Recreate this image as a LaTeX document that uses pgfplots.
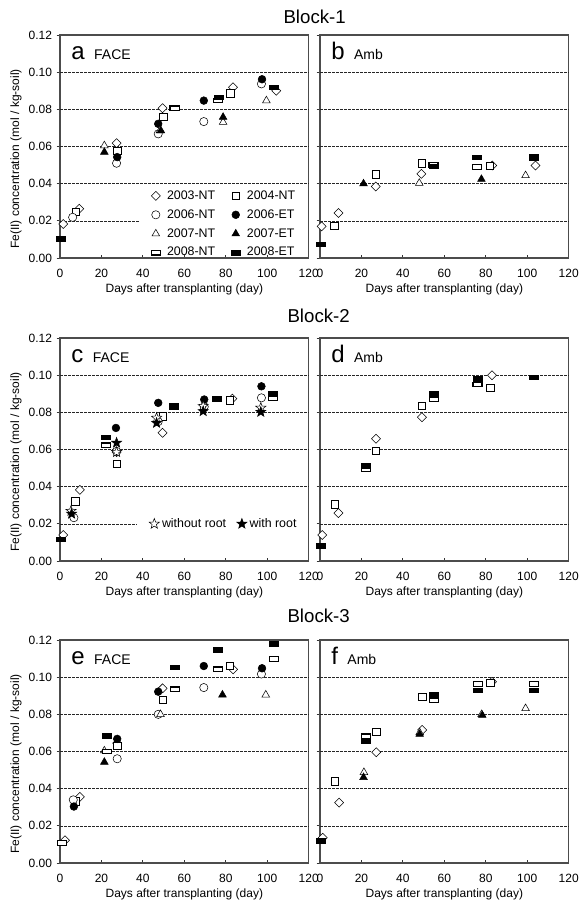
\documentclass[border=0pt]{standalone}
\usepackage{fontspec}
\setmainfont{Liberation Sans}
\usepackage{pgfplots}
\pgfplotsset{compat=1.18}
\usetikzlibrary{plotmarks}

% five-pointed star mark (open or filled through fill=)
\pgfdeclareplotmark{fivestar}{%
  \pgfpathmoveto{\pgfpointpolar{90}{\pgfplotmarksize}}%
  \pgfpathlineto{\pgfpointpolar{126}{0.42*\pgfplotmarksize}}%
  \pgfpathlineto{\pgfpointpolar{162}{\pgfplotmarksize}}%
  \pgfpathlineto{\pgfpointpolar{198}{0.42*\pgfplotmarksize}}%
  \pgfpathlineto{\pgfpointpolar{234}{\pgfplotmarksize}}%
  \pgfpathlineto{\pgfpointpolar{270}{0.42*\pgfplotmarksize}}%
  \pgfpathlineto{\pgfpointpolar{306}{\pgfplotmarksize}}%
  \pgfpathlineto{\pgfpointpolar{342}{0.42*\pgfplotmarksize}}%
  \pgfpathlineto{\pgfpointpolar{18}{\pgfplotmarksize}}%
  \pgfpathlineto{\pgfpointpolar{54}{0.42*\pgfplotmarksize}}%
  \pgfpathclose
  \pgfusepathqfillstroke}

\tikzset{gl/.style={black!85, line width=0.5pt, dash pattern=on 2pt off 1pt}}
% horizontal guide lines; #1 = where the 0.02 line stops
\newcommand{\grids}[1]{%
  \pgfplotsinvokeforeach{0.04,0.06,0.08,0.1}{\draw[gl] (axis cs:0,##1) -- (axis cs:120,##1);}%
  \draw[gl] (axis cs:0,0.02) -- (axis cs:#1,0.02);}

\pgfplotsset{
  panel/.style={
    scale only axis, width=186.5pt, height=167.25pt, anchor=north west,
    xmin=0, xmax=120, ymin=0, ymax=0.12,
    xtick={0,20,40,60,80,100,120}, ytick={0,0.02,0.04,0.06,0.08,0.1,0.12},
    xtick align=inside, ytick align=outside, xtick pos=bottom, ytick pos=left,
    major tick length=2.5pt,
    tick style={black!80, line width=0.6pt},
    axis line style={black!70, line width=0.9pt},
    clip=false,
    ticklabel style={font=\fontsize{9}{10}\selectfont},
    xticklabel style={yshift=-4.5pt},
    /pgf/number format/assume math mode=true,
    yticklabel style={/pgf/number format/.cd, fixed, fixed zerofill, precision=2},
    xlabel={Days after transplanting (day)},
    xlabel style={font=\fontsize{9}{10}\selectfont, at={(rel axis cs:0.5,-0.139)}, anchor=center},
    ylabel style={font=\fontsize{9}{10}\selectfont, at={(rel axis cs:-0.177,0.444)}, anchor=center},
    legend cell align=left,
  },
  leftpanel/.style={panel, ylabel={Fe(II) concentration (mol / kg-soil)}},
  rightpanel/.style={panel, yticklabels={}},
  mk/.style={only marks, mark options={draw=black, line width=0.6pt}},
  m03/.style={mk, mark=square*, mark size=2.4pt, mark options={rotate=45, fill=white}},
  m04/.style={mk, mark=square*, mark size=2.8pt, mark options={fill=white}},
  m06n/.style={mk, mark=*, mark size=3.1pt, mark options={fill=white}},
  m06e/.style={mk, mark=*, mark size=2.9pt, mark options={fill=black}},
  m07n/.style={mk, mark=triangle*, mark size=3.3pt, mark options={fill=white}},
  m07e/.style={mk, mark=triangle*, mark size=3.3pt, mark options={fill=black}},
  m08n/.style={mk, mark=square*, mark size=2.6pt, mark options={xscale=1.3, yscale=0.66, fill=white, line width=0.9pt}},
  m08e/.style={mk, mark=square*, mark size=2.6pt, mark options={xscale=1.3, yscale=0.66, fill=black}},
  mwo/.style={mk, mark=fivestar, mark size=4pt, mark options={fill=white}},
  mwi/.style={mk, mark=fivestar, mark size=4pt, mark options={fill=black}},
}
\newcommand{\plab}[2]{\node[anchor=base west, inner sep=0pt] at (rel axis cs:0.045,0.89)
  {{\fontsize{18}{18}\selectfont #1}\hspace{7pt}{\fontsize{10.5}{10.5}\selectfont #2}};}

\begin{document}
\begin{tikzpicture}
\path[use as bounding box] (0,0) rectangle (435pt,-675pt);

% ---------------- Block-1
\node[anchor=base, font=\fontsize{14}{16}\selectfont] at (236pt,-17.25pt) {Block-1};
\begin{axis}[leftpanel, at={(45pt,-26.25pt)}, legend columns=2,
  legend style={at={(axis cs:42,-0.003)}, anchor=south west, draw=none, fill=none,
    font=\fontsize{9.3}{10}\selectfont, row sep=2.2pt,
    /tikz/every odd column/.append style={column sep=3pt},
    /tikz/every even column/.append style={column sep=10pt}}]
\grids{38}
\addplot[m03] coordinates {(1.6,0.0183)(9.3,0.0265)(27.3,0.0618)(49.5,0.0806)(83.5,0.0919)(104.4,0.0900)};
\addlegendentry{2003-NT}
\addplot[m04] coordinates {(7.7,0.0250)(27.6,0.0577)(49.8,0.0761)(82.2,0.0887)};
\addlegendentry{2004-NT}
\addplot[m06n] coordinates {(6.1,0.0219)(27.3,0.0510)(47.4,0.0668)(69.4,0.0734)(97.2,0.0937)};
\addlegendentry{2006-NT}
\addplot[m06e] coordinates {(27.6,0.0543)(47.4,0.0722)(69.4,0.0847)(97.5,0.0962)};
\addlegendentry{2006-ET}
\addplot[m07n] coordinates {(21.4,0.0605)(48.2,0.0685)(78.7,0.0731)(99.6,0.0847)};
\addlegendentry{2007-NT}
\addplot[m07e] coordinates {(21.4,0.0570)(48.7,0.0685)(78.7,0.0758)};
\addlegendentry{2007-ET}
\addplot[m08n] coordinates {(55.3,0.0806)(76.4,0.0847)};
\addlegendentry{2008-NT}
\addplot[m08e] coordinates {(0.3,0.0102)(76.4,0.0865)(103.1,0.0919)};
\addlegendentry{2008-ET}
\plab{a}{FACE}
\end{axis}

\begin{axis}[rightpanel, at={(240pt,-26.25pt)}]
\grids{120}
\addplot[m03] coordinates {(0.8,0.0170)(8.9,0.0242)(26.9,0.0385)(48.9,0.0453)(83.1,0.0498)(104,0.0498)};
\addplot[m04] coordinates {(6.8,0.0174)(26.9,0.0451)(49.2,0.0510)(81.9,0.0496)};
\addplot[m07n] coordinates {(47.9,0.0403)(99.2,0.0444)};
\addplot[m07e] coordinates {(21,0.0400)(77.9,0.0424)};
\addplot[m08n] coordinates {(54.8,0.0502)(75.8,0.0489)(103.2,0.0536)};
\addplot[m08e] coordinates {(0.3,0.0075)(54.8,0.0494)(75.8,0.0541)(103.2,0.0545)};
\plab{b}{Amb}
\end{axis}

% ---------------- Block-2
\node[anchor=base, font=\fontsize{14}{16}\selectfont] at (239pt,-241.5pt) {Block-2};
\begin{axis}[leftpanel, at={(45pt,-253.5pt)}, legend columns=2,
  legend style={at={(axis cs:41,0.02)}, anchor=west, draw=none, fill=none,
    font=\fontsize{9.3}{10}\selectfont,
    /tikz/every even column/.append style={column sep=6pt}}]
\grids{37}
\addplot[m03, forget plot] coordinates {(1.6,0.0140)(9.6,0.0383)(27.3,0.0586)(49.5,0.0690)(83.2,0.0874)};
\addplot[m04, forget plot] coordinates {(7.4,0.0321)(27.3,0.0523)(49.5,0.0779)(81.9,0.0865)};
\addplot[m06n, forget plot] coordinates {(6.7,0.0233)(27.3,0.0590)(47.4,0.0750)(69.6,0.0830)(97.2,0.0878)};
\addplot[m06e, forget plot] coordinates {(27,0.0716)(47.4,0.0851)(69.6,0.0869)(97.2,0.0940)};
\addplot[m08n, forget plot] coordinates {(22.2,0.0623)(55,0.0830)(75.8,0.0869)(102.8,0.0878)};
\addplot[m08e, forget plot] coordinates {(0.3,0.0116)(22.2,0.0666)(54.9,0.0838)(75.8,0.0874)(102.8,0.0901)};
\addplot[mwo] coordinates {(5.3,0.0269)(27.3,0.0586)(46.6,0.0770)(69.1,0.0833)(96.9,0.0824)};
\addlegendentry{without root}
\addplot[mwi] coordinates {(5.6,0.0254)(27.3,0.0636)(46.6,0.0743)(69.1,0.0806)(96.9,0.0802)};
\addlegendentry{with root}
\plab{c}{FACE}
\end{axis}

\begin{axis}[rightpanel, at={(240pt,-253.5pt)}]
\grids{120}
\addplot[m03] coordinates {(1.1,0.0140)(8.9,0.0258)(27,0.0658)(49.2,0.0774)(83,0.1000)};
\addplot[m04] coordinates {(7,0.0305)(27,0.0593)(49.2,0.0835)(82.2,0.0932)};
\addplot[m08n] coordinates {(22.2,0.0493)(55,0.0869)(76,0.0950)};
\addplot[m08e] coordinates {(0.3,0.0081)(22.2,0.0514)(55,0.0901)(76,0.0980)(103,0.0989)};
\plab{d}{Amb}
\end{axis}

% ---------------- Block-3
\node[anchor=base, font=\fontsize{14}{16}\selectfont] at (239pt,-466.5pt) {Block-3};
\begin{axis}[leftpanel, at={(45pt,-480pt)}]
\grids{120}
\addplot[m03] coordinates {(2.4,0.0122)(9.6,0.0356)(27.6,0.0645)(49.5,0.0940)(83.5,0.1042)};
\addplot[m04] coordinates {(7.7,0.0333)(27.6,0.0630)(49.5,0.0878)(81.9,0.1060)};
\addplot[m06n] coordinates {(6.4,0.0340)(27.6,0.0561)(47.4,0.0800)(69.4,0.0944)(97.2,0.1017)};
\addplot[m06e] coordinates {(6.7,0.0304)(27.6,0.0668)(47.4,0.0922)(69.4,0.1060)(97.5,0.1048)};
\addplot[m07n] coordinates {(21.4,0.0604)(48.5,0.0800)(99.3,0.0905)};
\addplot[m07e] coordinates {(21.4,0.0543)(78.4,0.0905)};
\addplot[m08n] coordinates {(0.8,0.0107)(22.5,0.0600)(55.4,0.0935)(76.3,0.1042)(103.1,0.1098)};
\addplot[m08e] coordinates {(22.5,0.0686)(55.4,0.1053)(76.3,0.1146)(103.1,0.1179)};
\plab{e}{FACE}
\end{axis}

\begin{axis}[rightpanel, at={(240pt,-480pt)}]
\grids{120}
\addplot[m03] coordinates {(1.3,0.0136)(9.2,0.0325)(27.1,0.0596)(49.3,0.0716)(83,0.0975)};
\addplot[m04] coordinates {(7.1,0.0441)(27.1,0.0707)(49.3,0.0896)(82.1,0.0970)};
\addplot[m07n] coordinates {(21.2,0.0488)(48.1,0.0702)(78,0.0800)(99.2,0.0832)};
\addplot[m07e] coordinates {(21,0.0461)(48.1,0.0693)(78.3,0.0795)};
\addplot[m08n] coordinates {(22.3,0.0682)(55.1,0.0875)(76.1,0.0964)(103.1,0.0963)};
\addplot[m08e] coordinates {(0.3,0.0121)(22.3,0.0654)(55.1,0.0904)(76.1,0.0930)(103.1,0.0930)};
\plab{f}{Amb}
\end{axis}
\end{tikzpicture}
\end{document}
